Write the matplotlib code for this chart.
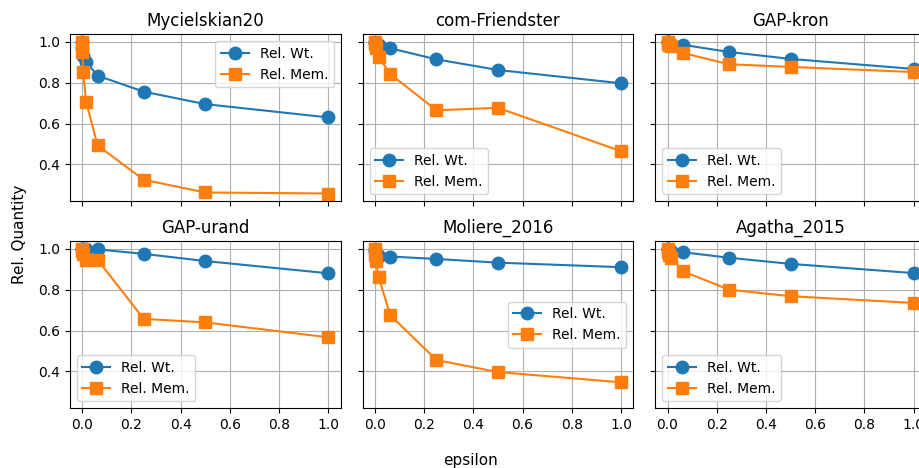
import numpy as np
import matplotlib.pyplot as plt

# epsilon values (powers of 4 plus zero)
epsilon = [0, 1 / 1024, 1 / 256, 1 / 64, 1 / 16, 0.25, 0.5, 1.0]

graphs = ["Mycielskian20", "com-Friendster", "GAP-kron",
          "GAP-urand", "Moliere_2016", "Agatha_2015"]

rel_wt = {
    "Mycielskian20": [1.0, 0.97, 0.93, 0.90, 0.834, 0.756, 0.695, 0.63],
    "com-Friendster": [1.0, 0.995, 0.99, 0.985, 0.968, 0.914, 0.862, 0.797],
    "GAP-kron": [1.0, 1.0, 0.995, 0.99, 0.985, 0.95, 0.916, 0.867],
    "GAP-urand": [1.0, 1.0, 1.0, 1.0, 0.997, 0.975, 0.94, 0.88],
    "Moliere_2016": [1.0, 0.99, 0.975, 0.965, 0.962, 0.95, 0.932, 0.91],
    "Agatha_2015": [1.0, 1.0, 0.995, 0.99, 0.983, 0.956, 0.926, 0.881],
}
rel_mem = {
    "Mycielskian20": [1.0, 0.95, 0.854, 0.707, 0.493, 0.325, 0.263, 0.258],
    "com-Friendster": [1.0, 0.99, 0.97, 0.925, 0.842, 0.665, 0.677, 0.465],
    "GAP-kron": [1.0, 0.99, 0.985, 0.98, 0.945, 0.89, 0.877, 0.852],
    "GAP-urand": [1.0, 0.99, 0.975, 0.946, 0.946, 0.657, 0.64, 0.567],
    "Moliere_2016": [1.0, 0.97, 0.94, 0.86, 0.675, 0.456, 0.397, 0.347],
    "Agatha_2015": [1.0, 0.985, 0.97, 0.955, 0.89, 0.80, 0.768, 0.735],
}
legend_loc = ["upper right", "lower left", "lower left",
              "lower left", "center right", "lower left"]

fig, axes = plt.subplots(2, 3, sharex=True, sharey=True, figsize=(9.2, 4.68), dpi=100)
fig.subplots_adjust(left=0.076, right=1.0065, top=0.927, bottom=0.128,
                    wspace=0.081, hspace=0.24)

for ax, name, loc in zip(axes.flat, graphs, legend_loc):
    ax.plot(epsilon, rel_wt[name], marker="o", markersize=9, label="Rel. Wt.")
    ax.plot(epsilon, rel_mem[name], marker="s", markersize=9, label="Rel. Mem.")
    ax.set_title(name)
    ax.grid(True)
    ax.legend(loc=loc)

axes[0, 0].set_yticks([0.4, 0.6, 0.8, 1.0])

fig.text(0.511, 0.0, "epsilon", ha="center", va="bottom", fontsize=11)
fig.text(0.013, 0.5, "Rel. Quantity", rotation=90, ha="left", va="center", fontsize=11)

fig.savefig("out.png")
